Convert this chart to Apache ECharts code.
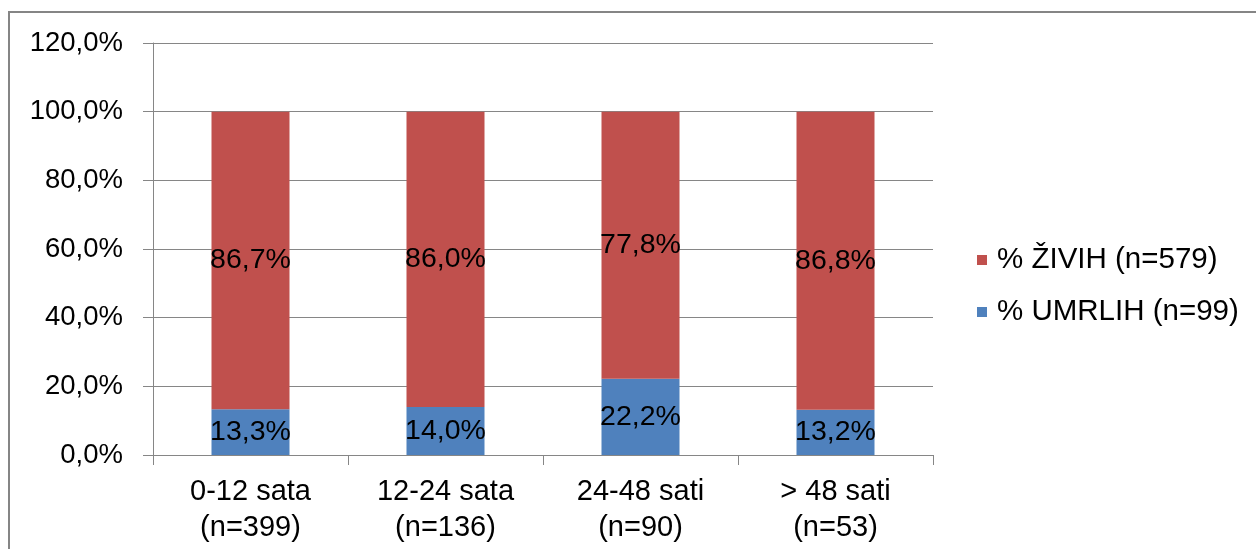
<!DOCTYPE html>
<html>
<head>
<meta charset="utf-8">
<script src="https://cdn.jsdelivr.net/npm/echarts@6/dist/echarts.min.js"></script>
<style>
html,body{margin:0;padding:0;background:#fff;}
#chart{width:1256px;height:549px;}
</style>
</head>
<body>
<div id="chart"></div>
<script>
var categories = ['0-12 sata\n(n=399)', '12-24 sata\n(n=136)', '24-48 sati\n(n=90)', '> 48 sati\n(n=53)'];
var umrlih = [13.3, 14.0, 22.2, 13.2];
var zivih = [86.7, 86.0, 77.8, 86.8];
var seriesNames = ['% UMRLIH (n=99)', '% ŽIVIH (n=579)'];
var yTicks = {min: 0, max: 120, interval: 20};

function fmt(v){ return v.toFixed(1).replace('.', ',') + '%'; }

var FONT = '"Liberation Sans", Arial, sans-serif';

var chart = echarts.init(document.getElementById('chart'));
chart.setOption({
  animation: false,
  backgroundColor: '#fff',
  graphic: [{
    type: 'rect',
    shape: {x: 9, y: 12, width: 1400, height: 700},
    style: {fill: 'none', stroke: '#858585', lineWidth: 2},
    silent: true
  }],
  grid: {left: 153, right: 323, top: 43, bottom: 94, containLabel: false},
  legend: {
    orient: 'vertical',
    left: 977,
    top: 245,
    padding: 0,
    itemWidth: 10,
    itemHeight: 10,
    itemGap: 22,
    icon: 'rect',
    data: [seriesNames[1], seriesNames[0]],
    textStyle: {fontFamily: FONT, fontSize: 29.5, color: '#000', padding: [0, 0, 0, 5]}
  },
  xAxis: {
    type: 'category',
    data: categories,
    axisLine: {lineStyle: {color: '#868686', width: 1}},
    axisTick: {show: true, length: 10, lineStyle: {color: '#868686'}},
    axisLabel: {fontFamily: FONT, fontSize: 29, color: '#000', lineHeight: 36, margin: 19}
  },
  yAxis: {
    type: 'value',
    min: yTicks.min, max: yTicks.max, interval: yTicks.interval,
    axisLine: {show: true, lineStyle: {color: '#868686', width: 1}},
    axisTick: {show: true, length: 10, lineStyle: {color: '#868686'}},
    splitLine: {lineStyle: {color: '#868686', width: 1}},
    axisLabel: {fontFamily: FONT, fontSize: 27.5, color: '#000', margin: 30, formatter: fmt}
  },
  series: [
    {
      name: seriesNames[0], type: 'bar', stack: 'a', barWidth: '40%',
      data: umrlih,
      itemStyle: {color: '#4F81BD'},
      label: {show: true, position: 'inside', fontFamily: FONT, fontSize: 28.5, color: '#000',
        formatter: function(p){ return fmt(p.value); }}
    },
    {
      name: seriesNames[1], type: 'bar', stack: 'a', barWidth: '40%',
      data: zivih,
      itemStyle: {color: '#C0504D'},
      label: {show: true, position: 'inside', fontFamily: FONT, fontSize: 28.5, color: '#000',
        formatter: function(p){ return fmt(p.value); }}
    }
  ]
});
</script>
</body>
</html>
